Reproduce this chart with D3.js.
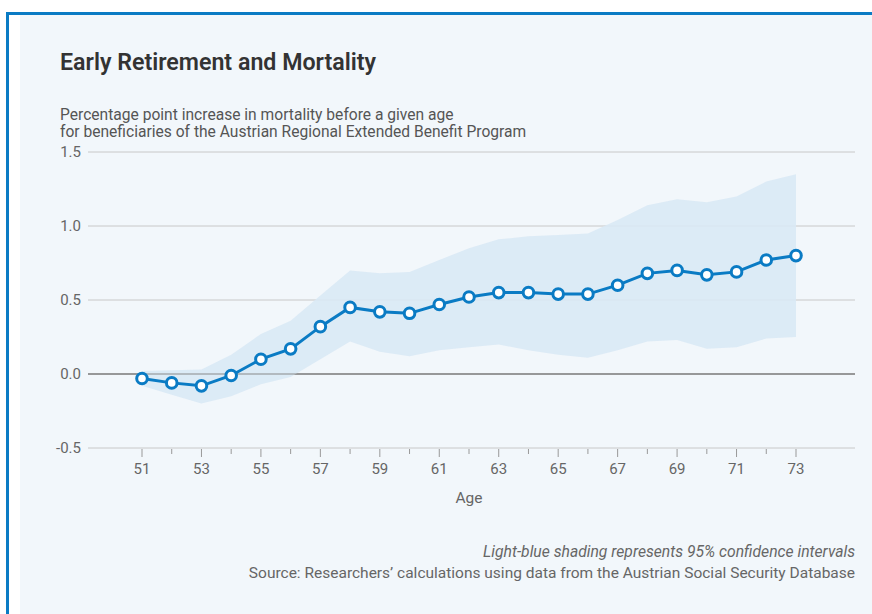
<!DOCTYPE html>
<html>
<head>
<meta charset="utf-8">
<script src="https://cdn.jsdelivr.net/npm/d3@7"></script>
<style>
  body { margin: 0; background: #fff; }
  svg { display: block; font-family: "Source Sans Pro", Roboto, "Noto Sans", sans-serif; }
</style>
</head>
<body>
<svg id="chart" width="872" height="614"></svg>
<script>
// data
const ages = [51, 52, 53, 54, 55, 56, 57, 58, 59, 60, 61, 62, 63, 64, 65, 66, 67, 68, 69, 70, 71, 72, 73];
const estimate = [-0.03, -0.06, -0.08, -0.01, 0.10, 0.17, 0.32, 0.45, 0.42, 0.41, 0.47, 0.52, 0.55, 0.55, 0.54, 0.54, 0.60, 0.68, 0.70, 0.67, 0.69, 0.77, 0.80];
const upper = [0.02, 0.025, 0.03, 0.13, 0.27, 0.36, 0.53, 0.70, 0.68, 0.69, 0.77, 0.85, 0.91, 0.93, 0.94, 0.95, 1.04, 1.14, 1.18, 1.16, 1.20, 1.30, 1.35];
const lower = [-0.08, -0.14, -0.20, -0.15, -0.07, -0.02, 0.10, 0.22, 0.15, 0.12, 0.16, 0.18, 0.20, 0.16, 0.13, 0.11, 0.16, 0.22, 0.23, 0.17, 0.18, 0.24, 0.25];
const yTicks = [-0.5, 0, 0.5, 1.0, 1.5];
const xLabels = [51, 53, 55, 57, 59, 61, 63, 65, 67, 69, 71, 73];

const blue = '#0a7bc4';
const svg = d3.select('#chart');

// frame
svg.append('rect').attr('x', 20).attr('y', 15).attr('width', 852).attr('height', 599).attr('fill', '#f2f7fb');
svg.append('line').attr('x1', 6).attr('x2', 872).attr('y1', 13.5).attr('y2', 13.5)
  .attr('stroke', blue).attr('stroke-width', 3);
svg.append('line').attr('x1', 7.5).attr('x2', 7.5).attr('y1', 12).attr('y2', 614)
  .attr('stroke', blue).attr('stroke-width', 3);

// titles
svg.append('text').attr('x', 60).attr('y', 70).attr('fill', '#333')
  .attr('font-size', 23.2).attr('font-weight', 600).text('Early Retirement and Mortality');
svg.append('text').attr('x', 60).attr('y', 120).attr('fill', '#555').attr('font-size', 15.6)
  .text('Percentage point increase in mortality before a given age');
svg.append('text').attr('x', 60).attr('y', 137).attr('fill', '#555').attr('font-size', 15.6)
  .text('for beneficiaries of the Austrian Regional Extended Benefit Program');

const x = d3.scaleLinear().domain([51, 73]).range([142, 796]);
const y = d3.scaleLinear().domain([-0.5, 1.5]).range([448, 152]);
const gridLeft = 88, gridRight = 855;

// gridlines + y labels
const yg = svg.append('g');
yg.selectAll('line').data(yTicks).join('line')
  .attr('x1', gridLeft).attr('x2', gridRight)
  .attr('y1', d => y(d)).attr('y2', d => y(d))
  .attr('stroke', d => d === 0 ? '#8a8a8a' : '#c8c8c8')
  .attr('stroke-width', d => d === 0 ? 1.5 : 1);
yg.selectAll('text').data(yTicks).join('text')
  .attr('x', 81).attr('y', d => y(d) + 5).attr('text-anchor', 'end')
  .attr('font-size', 15).attr('fill', '#666')
  .text(d => d.toFixed(1));

// confidence band
const band = ages.map((a, i) => ({ a: a, lo: lower[i], hi: upper[i] }));
svg.append('path').datum(band)
  .attr('fill', '#d9e9f5').attr('opacity', 0.9)
  .attr('d', d3.area().x(d => x(d.a)).y0(d => y(d.lo)).y1(d => y(d.hi)));

// redraw zero line faintly over the band
svg.append('line').attr('x1', gridLeft).attr('x2', gridRight)
  .attr('y1', y(0)).attr('y2', y(0)).attr('stroke', '#8a8a8a').attr('stroke-width', 1.5).attr('opacity', 0.6);

// x axis ticks
const xg = svg.append('g');
xg.selectAll('line').data(ages).join('line')
  .attr('x1', d => x(d)).attr('x2', d => x(d))
  .attr('y1', 449).attr('y2', d => d % 2 ? 457 : 454)
  .attr('stroke', '#999').attr('stroke-width', 1);
xg.selectAll('text').data(xLabels).join('text')
  .attr('x', d => x(d)).attr('y', 474).attr('text-anchor', 'middle')
  .attr('font-size', 15).attr('fill', '#666').text(d => d);
svg.append('text').attr('x', 469).attr('y', 503).attr('text-anchor', 'middle')
  .attr('font-size', 15.5).attr('fill', '#666').text('Age');

// line + markers
const pts = ages.map((a, i) => ({ a: a, v: estimate[i] }));
svg.append('path').datum(pts)
  .attr('fill', 'none').attr('stroke', blue).attr('stroke-width', 3)
  .attr('d', d3.line().x(d => x(d.a)).y(d => y(d.v)));
svg.selectAll('circle.pt').data(pts).join('circle')
  .attr('class', 'pt')
  .attr('cx', d => x(d.a)).attr('cy', d => y(d.v)).attr('r', 5.3)
  .attr('fill', '#fff').attr('stroke', blue).attr('stroke-width', 3);

// notes
svg.append('text').attr('x', 855).attr('y', 557).attr('text-anchor', 'end')
  .attr('font-size', 15.7).attr('font-style', 'italic').attr('fill', '#666')
  .text('Light-blue shading represents 95% confidence intervals');
svg.append('text').attr('x', 855).attr('y', 578).attr('text-anchor', 'end')
  .attr('font-size', 15.5).attr('fill', '#666')
  .text('Source: Researchers’ calculations using data from the Austrian Social Security Database');
</script>
</body>
</html>
